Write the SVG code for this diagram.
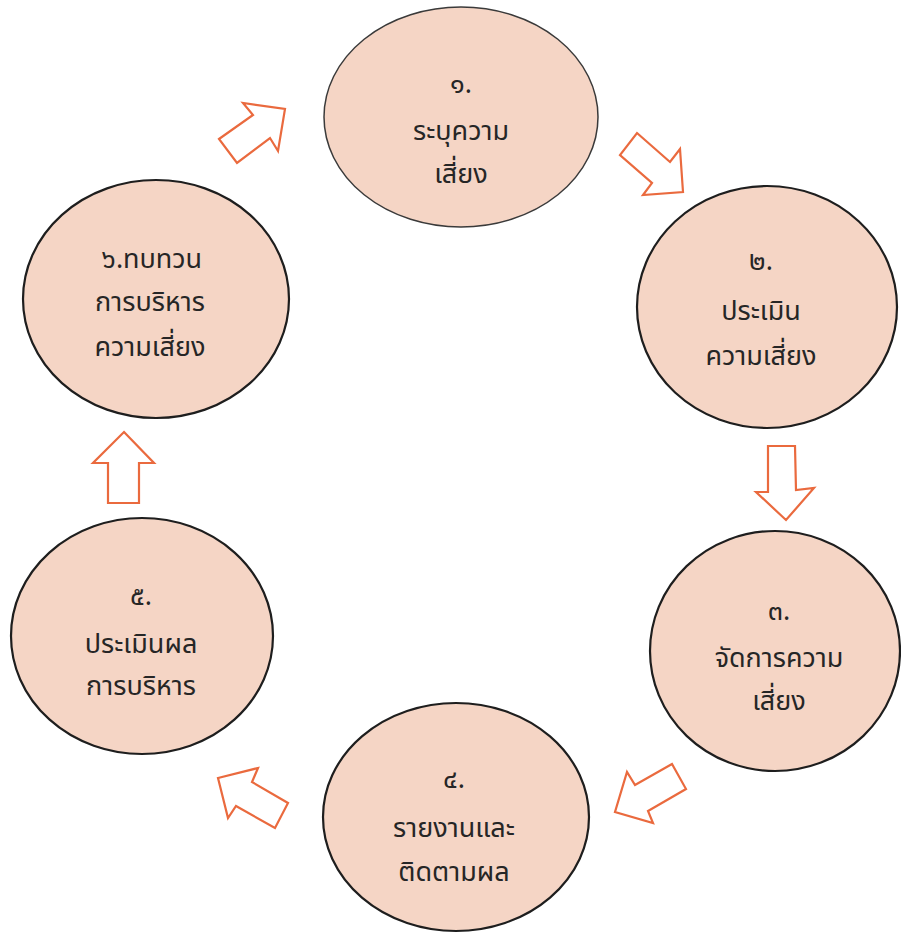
<svg xmlns="http://www.w3.org/2000/svg" width="901" height="935" viewBox="0 0 901 935">
<style>
.node ellipse{fill:#f5d5c5;stroke:#1e1e1e;stroke-width:2.2}
.node text{font-family:"Noto Sans Thai","Noto Sans",sans-serif;font-size:27px;fill:#262626;text-anchor:middle}
.arrow{fill:#ffffff;stroke:#ea6a3e;stroke-width:2.2;stroke-linejoin:miter}
</style>
<rect width="901" height="935" fill="#ffffff"/>
<g id="connectors">
<polygon class="arrow" points="219,139 253,115 243,103 285,109 278,151 270,138 237,163"/>
<polygon class="arrow" points="637,133 670,162 680,149 683,192 643,195 652,183 620,155"/>
<polygon class="arrow" points="768,446 795,446 796,490 814,488 786,520 756,492 768,492"/>
<polygon class="arrow" points="672,764 635,785 627,772 615,812 653,823 648,811 686,789"/>
<polygon class="arrow" points="218,778 258,768 252,782 288,803 275,828 236,806 228,818"/>
<polygon class="arrow" points="124,432 154,463 139,463 139,503 108,503 108,463 93,463"/>
</g>
<g id="node1" class="node">
<ellipse cx="461" cy="117" rx="137" ry="110" style="stroke:#3a3a3a;stroke-width:1.5"/>
<text x="461" y="93">๑.</text>
<text x="461" y="140">ระบุความ</text>
<text x="461" y="183">เสี่ยง</text>
</g>
<g id="node2" class="node">
<ellipse cx="767" cy="307" rx="130" ry="121"/>
<text x="761" y="270">๒.</text>
<text x="761" y="320">ประเมิน</text>
<text x="761" y="365">ความเสี่ยง</text>
</g>
<g id="node3" class="node">
<ellipse cx="775" cy="651" rx="125" ry="120"/>
<text x="779" y="620">๓.</text>
<text x="779" y="667">จัดการความ</text>
<text x="779" y="710">เสี่ยง</text>
</g>
<g id="node4" class="node">
<ellipse cx="456" cy="817" rx="133" ry="114"/>
<text x="454" y="788">๔.</text>
<text x="454" y="837">รายงานและ</text>
<text x="454" y="881">ติดตามผล</text>
</g>
<g id="node5" class="node">
<ellipse cx="142" cy="636" rx="131" ry="118"/>
<text x="141" y="605">๕.</text>
<text x="141" y="653">ประเมินผล</text>
<text x="141" y="695">การบริหาร</text>
</g>
<g id="node6" class="node">
<ellipse cx="156" cy="299" rx="133" ry="119"/>
<text x="152" y="268">๖.ทบทวน</text>
<text x="150" y="311">การบริหาร</text>
<text x="150" y="356">ความเสี่ยง</text>
</g>
</svg>
